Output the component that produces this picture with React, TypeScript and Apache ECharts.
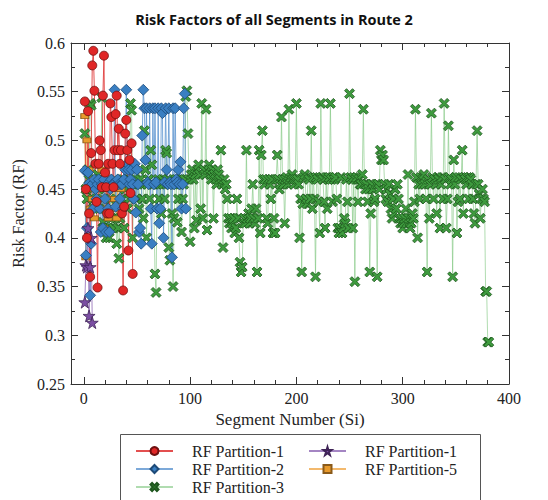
import React, { useEffect, useRef } from "react";
import * as echarts from "echarts";

const chartTitle = "Risk Factors of all Segments in Route 2";
const xAxisName = "Segment Number (Si)";
const yAxisName = "Risk Factor (RF)";
const xLabelValues = [0, 100, 200, 300, 400];
const xMinorTickValues = [0, 20, 40, 60, 80, 100, 120, 140, 160, 180, 200, 220, 240, 260, 280, 300, 320, 340, 360, 380, 400];

const seriesNames = ["RF Partition-1", "RF Partition-2", "RF Partition-3", "RF Partition-1 ", "RF Partition-5"];

// values for segments 1, 2, 3, ...
const partition1 = [
  0.54, 0.45, 0.4, 0.53, 0.425, 0.36, 0.487, 0.577, 0.592, 0.551,
  0.476, 0.437, 0.349, 0.476, 0.5, 0.49, 0.452, 0.546, 0.587, 0.467,
  0.452, 0.425, 0.476, 0.425, 0.538, 0.524, 0.476, 0.452, 0.49, 0.527,
  0.546, 0.49, 0.512, 0.476, 0.49, 0.425, 0.346, 0.432, 0.507, 0.521,
  0.49, 0.387, 0.48, 0.446, 0.497, 0.363,
];

const partition2 = [
  0.469, 0.382, 0.41, 0.467, 0.456, 0.341, 0.394, 0.455, 0.43, 0.46,
  0.45, 0.44, 0.455, 0.46, 0.43, 0.406, 0.455, 0.41, 0.46, 0.44,
  0.406, 0.455, 0.43, 0.406, 0.45, 0.46, 0.455, 0.455, 0.552, 0.432,
  0.455, 0.46, 0.455, 0.44, 0.455, 0.455, 0.43, 0.46, 0.47, 0.552,
  0.476, 0.47, 0.455, 0.46, 0.47, 0.455, 0.44, 0.476, 0.426, 0.47,
  0.455, 0.406, 0.41, 0.394, 0.505, 0.552, 0.533, 0.48, 0.533, 0.457,
  0.455, 0.533, 0.43, 0.394, 0.533, 0.455, 0.533, 0.457, 0.43, 0.533,
  0.415, 0.43, 0.533, 0.528, 0.4, 0.457, 0.533, 0.47, 0.455, 0.533,
  0.457, 0.455, 0.38, 0.533, 0.455, 0.533, 0.46, 0.457, 0.47, 0.455,
  0.478, 0.43, 0.455, 0.533, 0.548, 0.43,
];

const partition3 = [
  0.507, 0.45, 0.44, 0.47, 0.46, 0.538, 0.536, 0.45, 0.43, 0.46,
  0.455, 0.44, 0.465, 0.45, 0.46, 0.455, 0.544, 0.416, 0.41, 0.43,
  0.4, 0.455, 0.41, 0.4, 0.44, 0.42, 0.455, 0.41, 0.46, 0.42,
  0.394, 0.41, 0.379, 0.42, 0.455, 0.44, 0.46, 0.41, 0.45, 0.455,
  0.43, 0.46, 0.44, 0.538, 0.531, 0.4, 0.455, 0.47, 0.46, 0.44,
  0.455, 0.43, 0.46, 0.455, 0.44, 0.42, 0.51, 0.47, 0.4, 0.455,
  0.46, 0.44, 0.49, 0.475, 0.455, 0.43, 0.363, 0.344, 0.455, 0.46,
  0.44, 0.455, 0.425, 0.46, 0.455, 0.44, 0.49, 0.487, 0.46, 0.39,
  0.377, 0.455, 0.425, 0.35, 0.42, 0.455, 0.46, 0.416, 0.44, 0.455,
  0.46, 0.406, 0.44, 0.455, 0.46, 0.545, 0.551, 0.507, 0.46, 0.396,
  0.465, 0.47, 0.46, 0.41, 0.465, 0.418, 0.47, 0.475, 0.465, 0.43,
  0.538, 0.42, 0.47, 0.465, 0.532, 0.408, 0.47, 0.475, 0.465, 0.46,
  0.47, 0.42, 0.465, 0.46, 0.455, 0.47, 0.465, 0.46, 0.49, 0.455,
  0.39, 0.46, 0.45, 0.455, 0.44,
  0.42, 0.415, 0.42, 0.41, 0.415, 0.42, 0.405, 0.41, 0.44, 0.42,
  0.4, 0.375, 0.365, 0.37, 0.415, 0.42, 0.415, 0.49, 0.42, 0.425,
  0.415, 0.42, 0.43, 0.455, 0.42, 0.415, 0.43, 0.365, 0.42, 0.49,
  0.405, 0.485, 0.51, 0.46, 0.455, 0.46, 0.42, 0.415, 0.46, 0.455,
  0.44, 0.46, 0.405, 0.42, 0.405, 0.46, 0.485, 0.46, 0.45, 0.455,
  0.524, 0.46, 0.455, 0.415, 0.46, 0.462, 0.455, 0.532, 0.46, 0.462,
  0.465, 0.46, 0.455, 0.46, 0.538,
  0.46, 0.455, 0.4, 0.44, 0.365, 0.435, 0.462, 0.465, 0.44, 0.435,
  0.462, 0.46, 0.44, 0.51, 0.43, 0.462, 0.44, 0.36, 0.462, 0.46,
  0.437, 0.405, 0.538, 0.462, 0.46, 0.437, 0.41, 0.462, 0.43, 0.46,
  0.462, 0.538, 0.46, 0.437, 0.462, 0.46, 0.462, 0.44, 0.41, 0.405,
  0.41, 0.462, 0.405, 0.41, 0.42, 0.415, 0.46, 0.437, 0.41, 0.548,
  0.462, 0.46, 0.41, 0.462, 0.355, 0.46, 0.462, 0.437, 0.46, 0.455,
  0.455, 0.465, 0.532, 0.455, 0.45, 0.455, 0.437, 0.45, 0.365, 0.425,
  0.455, 0.45, 0.437, 0.44, 0.455, 0.36, 0.455, 0.45, 0.49, 0.48,
  0.485, 0.48, 0.455, 0.44, 0.45, 0.437, 0.455, 0.445, 0.43, 0.42,
  0.44, 0.425, 0.45, 0.43, 0.455, 0.44, 0.42, 0.415, 0.42, 0.41,
  0.415, 0.42, 0.43, 0.415, 0.465, 0.42, 0.41, 0.415, 0.425, 0.42,
  0.437, 0.532,
  0.462, 0.4, 0.455, 0.44, 0.462, 0.455, 0.46, 0.465, 0.455, 0.44,
  0.365, 0.46, 0.42, 0.455, 0.528, 0.462, 0.44, 0.46, 0.455, 0.425,
  0.462, 0.46, 0.41, 0.455, 0.462, 0.44, 0.538, 0.46, 0.41, 0.44,
  0.515, 0.462, 0.455, 0.46, 0.36, 0.48, 0.455, 0.462, 0.405, 0.437,
  0.462, 0.44, 0.46, 0.49, 0.425, 0.462, 0.46, 0.455, 0.462, 0.44,
  0.462, 0.46, 0.455, 0.44, 0.425, 0.415, 0.455, 0.51, 0.455, 0.445,
  0.42, 0.44, 0.45, 0.44, 0.437, 0.345, 0.345, 0.293, 0.293,
];

const partition1b = [0.334, 0.372, 0.37, 0.41, 0.32, 0.37, 0.4, 0.313];

const partition5 = [
  0.525, 0.38, 0.5, 0.45, 0.47, 0.43, 0.455, 0.44, 0.46, 0.42,
  0.45, 0.455, 0.43, 0.46, 0.44, 0.45, 0.47, 0.455, 0.41, 0.45,
  0.43, 0.46, 0.42, 0.45, 0.44, 0.455, 0.43, 0.46, 0.44, 0.45,
  0.42, 0.455, 0.43, 0.46, 0.45,
];

const CROSS = "path://M2,0 L5,3 L8,0 L10,2 L7,5 L10,8 L8,10 L5,7 L2,10 L0,8 L3,5 L0,2 Z";
const STAR = "path://M50,0 L61,35 L98,35 L68,57 L79,91 L50,70 L21,91 L32,57 L2,35 L39,35 Z";

const toPoints = (vals: number[]) => vals.map((v, i) => [i + 1, v]);

const serif = "Liberation Serif";
const axisColor = "#333";

export default function App() {
  const ref = useRef<HTMLDivElement>(null);

  useEffect(() => {
    if (!ref.current) return;
    const chart = echarts.init(ref.current, undefined, { renderer: "svg" });

    const baseX = {
      type: "value" as const,
      min: -12,
      max: 400,
      gridIndex: 0,
      splitLine: { show: false },
      axisLine: { show: true, onZero: false, lineStyle: { color: axisColor, width: 1 } },
      axisLabel: { show: false },
    };
    const baseY = {
      type: "value" as const,
      min: 0.25,
      max: 0.6,
      interval: 0.05,
      splitLine: { show: false },
      axisLine: { show: true, onZero: false, lineStyle: { color: axisColor, width: 1 } },
      axisTick: { show: true, inside: true, length: 7, lineStyle: { color: axisColor } },
      minorTick: { show: true, splitNumber: 2, length: 4, lineStyle: { color: axisColor } },
    };

    const lineSeries = (
      name: string,
      vals: number[],
      symbol: string,
      symbolSize: number | number[],
      fill: string,
      border: string,
      lineColor: string,
      lineOpacity: number
    ) => ({
      name,
      type: "line",
      xAxisIndex: 0,
      yAxisIndex: 0,
      data: toPoints(vals),
      symbol,
      symbolSize,
      showAllSymbol: true,
      itemStyle: { color: fill, borderColor: border, borderWidth: 0.8 },
      lineStyle: { color: lineColor, width: 1, opacity: lineOpacity },
      emphasis: { disabled: true },
    });

    const legendText = {
      fontFamily: serif,
      fontSize: 16,
      color: "#222",
      lineHeight: 16,
      padding: [0, 0, 0, 14],
    };

    chart.setOption({
      animation: false,
      backgroundColor: "#fff",
      title: {
        text: chartTitle,
        left: "center",
        top: 7,
        textStyle: { fontFamily: "Open Sans", fontWeight: "bold", fontSize: 14.5, color: "#111" },
      },
      grid: { left: 71, right: 39, top: 43, bottom: 116, containLabel: false },
      xAxis: [
        {
          ...baseX,
          position: "bottom",
          name: xAxisName,
          nameLocation: "middle",
          nameGap: 20,
          nameTextStyle: { fontFamily: serif, fontSize: 17, color: "#222" },
          axisLabel: {
            show: true,
            customValues: xLabelValues,
            fontFamily: serif,
            fontSize: 16,
            color: "#222",
            margin: 6,
          },
          axisTick: { show: true, inside: true, length: 4, customValues: xMinorTickValues, lineStyle: { color: axisColor } },
        },
        {
          ...baseX,
          position: "bottom",
          axisLine: { show: false },
          axisTick: { show: true, inside: true, length: 7, customValues: xLabelValues, lineStyle: { color: axisColor } },
        },
        {
          ...baseX,
          position: "top",
          axisTick: { show: true, inside: true, length: 4, customValues: xMinorTickValues, lineStyle: { color: axisColor } },
        },
        {
          ...baseX,
          position: "top",
          axisLine: { show: false },
          axisTick: { show: true, inside: true, length: 7, customValues: xLabelValues, lineStyle: { color: axisColor } },
        },
      ],
      yAxis: [
        {
          ...baseY,
          position: "left",
          name: yAxisName,
          nameLocation: "middle",
          nameGap: 42,
          nameRotate: 90,
          nameTextStyle: { fontFamily: serif, fontSize: 16, color: "#222" },
          axisLabel: { show: true, fontFamily: serif, fontSize: 16, color: "#222", margin: 6 },
        },
        {
          ...baseY,
          position: "right",
          axisLabel: { show: false },
        },
      ],
      legend: [
        {
          orient: "vertical",
          left: 135,
          top: 443,
          padding: 0,
          itemGap: 2,
          itemWidth: 37,
          itemHeight: 10,
          selectedMode: false,
          data: [seriesNames[0], seriesNames[1], seriesNames[2]],
          formatter: (n: string) => n.trim(),
          textStyle: legendText,
        },
        {
          orient: "vertical",
          left: 308,
          top: 443,
          padding: 0,
          itemGap: 2,
          itemWidth: 37,
          itemHeight: 10,
          selectedMode: false,
          data: [seriesNames[3], seriesNames[4]],
          formatter: (n: string) => n.trim(),
          textStyle: legendText,
        },
      ],
      graphic: [
        {
          type: "rect",
          left: 118,
          top: 432,
          shape: { width: 360, height: 100 },
          style: { fill: "none", stroke: "#555", lineWidth: 1 },
          silent: true,
        },
      ],
      series: [
        lineSeries(seriesNames[2], partition3, CROSS, 10, "#3e9b3e", "#1d551d", "#7cc47c", 0.6),
        lineSeries(seriesNames[4], partition5, "rect", [8, 5], "#e89a2c", "#8a5a1a", "#f0a848", 0.8),
        lineSeries(seriesNames[1], partition2, "diamond", 11, "#3a7fc2", "#1d4a78", "#5b93cf", 0.8),
        lineSeries(seriesNames[3], partition1b, STAR, 12, "#7b4ea3", "#3f2357", "#9a78bd", 0.9),
        lineSeries(seriesNames[0], partition1, "circle", 9, "#e02727", "#6e1010", "#e24646", 0.95),
      ],
    });

    return () => chart.dispose();
  }, []);

  return (
    <div
      ref={ref}
      style={{ position: "fixed", left: 0, top: 0, width: 548, height: 500, background: "#fff" }}
    />
  );
}
